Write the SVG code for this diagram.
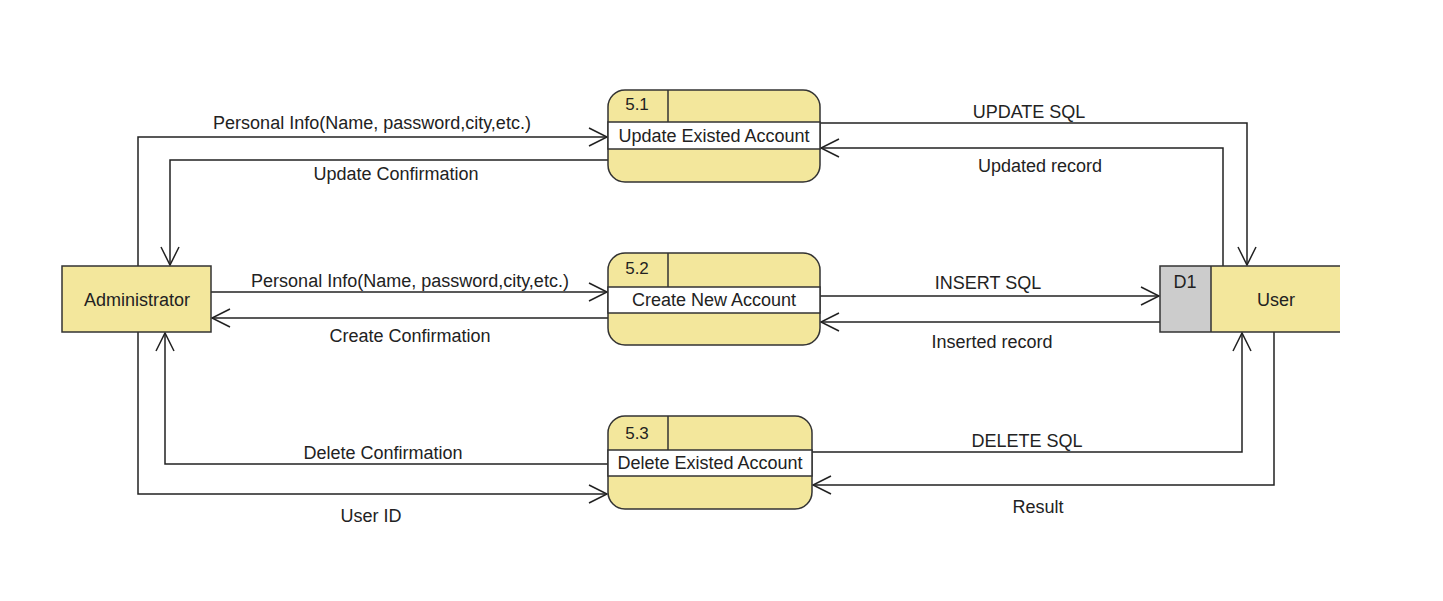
<svg xmlns="http://www.w3.org/2000/svg" width="1443" height="601" viewBox="0 0 1443 601">
<defs>
<style>
text{font-family:"Liberation Sans",Arial,sans-serif;font-size:18px;fill:#222;text-anchor:middle}
.num{font-size:17px}
.shape{fill:#f3e79c;stroke:#333;stroke-width:1.5}
.band{fill:#fff;stroke:#333;stroke-width:1.5}
.ln{fill:none;stroke:#333;stroke-width:1.5}
.flow{fill:none;stroke:#222;stroke-width:1.5;marker-end:url(#arr)}
</style>
<marker id="arr" markerUnits="userSpaceOnUse" markerWidth="24" markerHeight="24" refX="20" refY="10" orient="auto" viewBox="0 0 24 20">
<path d="M2,1 L20,10 L2,19" fill="none" stroke="#222" stroke-width="1.5"/>
</marker>
</defs>
<rect width="1443" height="601" fill="#fff"/>

<g id="connectors">
<path class="flow" d="M138,266 V137 H607"/>
<path class="flow" d="M608,160 H170 V265"/>
<path class="flow" d="M820,123 H1247 V265"/>
<path class="flow" d="M1223,266 V148 H821"/>
<path class="flow" d="M211,292 H607"/>
<path class="flow" d="M608,318 H212"/>
<path class="flow" d="M820,296 H1159"/>
<path class="flow" d="M1160,322 H821"/>
<path class="flow" d="M608,464 H165 V333"/>
<path class="flow" d="M138,332 V494 H607"/>
<path class="flow" d="M812,452 H1242 V333"/>
<path class="flow" d="M1274,332 V485 H813"/>
<text x="372" y="129">Personal Info(Name, password,city,etc.)</text>
<text x="396" y="180">Update Confirmation</text>
<text x="1029" y="118">UPDATE SQL</text>
<text x="1040" y="172">Updated record</text>
<text x="410" y="287">Personal Info(Name, password,city,etc.)</text>
<text x="410" y="342">Create Confirmation</text>
<text x="988" y="289">INSERT SQL</text>
<text x="992" y="348">Inserted record</text>
<text x="383" y="459">Delete Confirmation</text>
<text x="371" y="522">User ID</text>
<text x="1027" y="447">DELETE SQL</text>
<text x="1038" y="513">Result</text>
</g>

<g id="administrator">
<rect class="shape" x="62" y="266" width="149" height="66"/>
<text x="137" y="306">Administrator</text>
</g>

<g id="p51">
<rect class="shape" x="608" y="90" width="212" height="92" rx="17"/>
<line class="ln" x1="668" y1="90" x2="668" y2="122"/>
<rect class="band" x="608" y="122" width="212" height="27"/>
<text class="num" x="637" y="110">5.1</text>
<text x="714" y="142">Update Existed Account</text>
</g>

<g id="p52">
<rect class="shape" x="608" y="253" width="212" height="92" rx="17"/>
<line class="ln" x1="668" y1="253" x2="668" y2="287"/>
<rect class="band" x="608" y="287" width="212" height="26"/>
<text class="num" x="637" y="274">5.2</text>
<text x="714" y="306">Create New Account</text>
</g>

<g id="p53">
<rect class="shape" x="608" y="416" width="204" height="93" rx="17"/>
<line class="ln" x1="668" y1="416" x2="668" y2="450"/>
<rect class="band" x="608" y="450" width="204" height="26"/>
<text class="num" x="637" y="439">5.3</text>
<text x="710" y="469">Delete Existed Account</text>
</g>

<g id="user">
<rect x="1160" y="266" width="180" height="66" fill="#f3e79c"/>
<rect x="1160" y="266" width="51" height="66" fill="#cccccc"/>
<path class="ln" d="M1340,266 H1160 V332 H1340 M1211,266 V332"/>
<text x="1185" y="288">D1</text>
<text x="1276" y="306">User</text>
</g>
</svg>
